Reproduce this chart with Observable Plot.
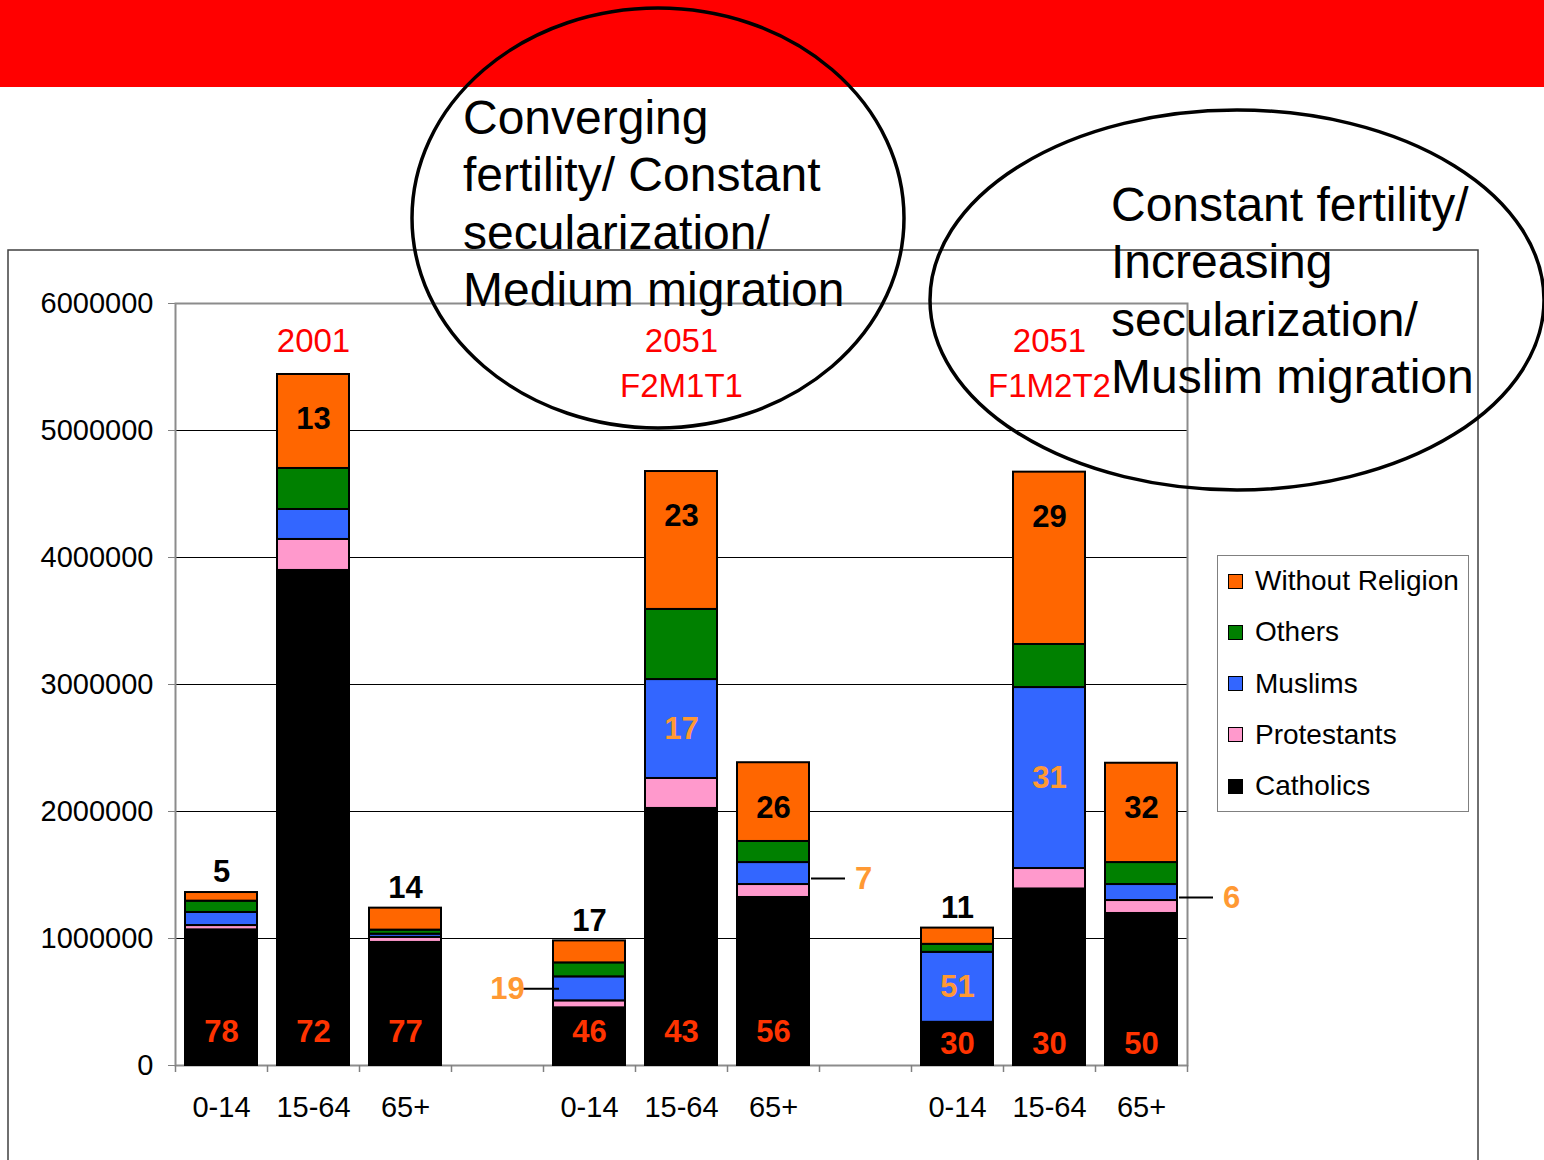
<!DOCTYPE html>
<html><head><meta charset="utf-8">
<script src="https://cdn.jsdelivr.net/npm/d3@7"></script>
<script src="https://cdn.jsdelivr.net/npm/@observablehq/plot@0.6"></script>
<style>
html,body{margin:0;padding:0;background:#fff;}
body{width:1544px;height:1160px;position:relative;overflow:hidden;font-family:"Liberation Sans",Arial,sans-serif;}
#chart{position:absolute;left:0;top:0;width:1544px;height:1160px;}
#banner{position:absolute;left:0;top:0;width:1544px;height:87px;background:#ff0000;}
#overlay{position:absolute;left:0;top:0;}
#legend{position:absolute;left:1217px;top:555px;width:250px;height:255px;border:1px solid #808080;background:#fff;}
#legend .item{position:absolute;left:10px;height:32px;display:flex;align-items:center;font-size:28px;color:#000;white-space:nowrap;}
#legend .sw{width:13px;height:13px;border:1.5px solid #000;margin-right:12px;}
</style></head><body>
<div id="chart"></div>
<div id="banner"></div>
<svg id="overlay" width="1544" height="1160"></svg>
<div id="legend"></div>
<script>
// ---- data ----
const groups = ["2001", "2051 F2M1T1", "2051 F1M2T2"];
const groupHeaders = ["2001", "2051\nF2M1T1", "2051\nF1M2T2"];
const ages = ["0-14", "15-64", "65+"];
const religions = ["Catholics", "Protestants", "Muslims", "Others", "Without Religion"];
const religionColors = ["#000000", "#ff99cc", "#3366ff", "#008000", "#ff6600"];
// values per bar, in the order 2001 (0-14, 15-64, 65+), 2051 F2M1T1 (...), 2051 F1M2T2 (...)
const catholics       = [1068000, 3898000,  969000,  454000, 2024000, 1323000,  335000, 1390000, 1197000];
const protestants     = [  34000,  244000,   40000,   55000,  236000,  102000,    5000,  161000,  102000];
const muslims         = [ 103000,  236000,   25000,  189000,  779000,  173000,  551000, 1425000,  126000];
const others          = [  89000,  323000,   32000,  110000,  552000,  166000,   63000,  339000,  173000];
const withoutReligion = [  68000,  740000,  173000,  173000, 1086000,  620000,  128000, 1357000,  782000];
const catholicPct     = [78, 72, 77, 46, 43, 56, 30, 30, 50];
const withoutPct      = [5, 13, 14, 17, 23, 26, 11, 29, 32];
const muslimPct       = [null, null, null, 19, 17, 7, 51, 31, 6];
const yTicks = [0, 1000000, 2000000, 3000000, 4000000, 5000000, 6000000];

// ---- build tables ----
const series = [catholics, protestants, muslims, others, withoutReligion];
const xDomain = [];
const bars = [];
groups.forEach((g, gi) => {
  if (gi > 0) xDomain.push("gap" + gi);
  ages.forEach((a, ai) => {
    const i = gi * 3 + ai;
    const key = g + "|" + a;
    xDomain.push(key);
    const vals = series.map(s => s[i]);
    const total = d3.sum(vals);
    bars.push({
      key, gi, age: a, total,
      cat: catholics[i],
      mid: catholics[i] + protestants[i] + muslims[i] / 2,
      mus: muslims[i],
      wr: withoutReligion[i],
      catPct: catholicPct[i], wrPct: withoutPct[i], musPct: muslimPct[i]
    });
  });
});
const long = [];
bars.forEach((b, i) => religions.forEach((r, ri) => long.push({key: b.key, religion: r, value: series[ri][i]})));
const headers = groups.map((g, gi) => ({key: g + "|" + ages[1], text: groupHeaders[gi]}));

const musLabels = bars.filter(b => b.musPct != null);
const musInside = musLabels.filter(b => b.mus >= 500000);
const musLeft = musLabels.filter(b => b.mus < 500000 && b.age === "0-14");
const musRight = musLabels.filter(b => b.mus < 500000 && b.age !== "0-14");
const boundaries = xDomain.map(k => ({k}));
const LABEL = {fontWeight: "bold", fontSize: 31};

const plot = Plot.plot({
  width: 1544, height: 1160,
  marginLeft: 175, marginRight: 357, marginTop: 303, marginBottom: 95,
  style: {fontFamily: '"Liberation Sans", Arial, sans-serif', fontSize: "29px", background: "transparent", color: "#000", overflow: "visible"},
  x: {type: "band", domain: xDomain, paddingInner: 0.217, paddingOuter: 0.1085, axis: null},
  y: {domain: [0, 6000000], ticks: yTicks, tickFormat: "d", tickSize: 7, tickPadding: 15, label: null},
  color: {domain: religions, range: religionColors},
  marks: [
    Plot.ruleY(yTicks.filter(t => t > 0 && t < 6000000), {stroke: "#000", strokeWidth: 1}),
    Plot.frame({stroke: "#8c8c8c", strokeWidth: 2}),
    Plot.ruleX(boundaries, {x: "k", y1: 0, y2: 0, insetTop: 7, dx: -46, stroke: "#808080", strokeWidth: 1.5}),
    Plot.ruleX(boundaries.slice(-1), {x: "k", y1: 0, y2: 0, insetTop: 7, dx: 46, stroke: "#808080", strokeWidth: 1.5}),
    Plot.barY(long, {x: "key", y: "value", fill: "religion", stroke: "#000", strokeWidth: 2}),
    Plot.text(bars, {x: "key", text: "age", frameAnchor: "bottom", lineAnchor: "middle", dy: 42, fontSize: 29, fill: "#000"}),
    Plot.text(headers, {x: "key", text: "text", frameAnchor: "top", lineAnchor: "top", dy: 17, fontSize: 33, lineHeight: 1.36, fill: "#ff0000"}),
    Plot.text(bars, {x: "key", y: d => d.gi < 2 ? 260000 : 165000, text: "catPct", fill: "#ff3300", ...LABEL}),
    Plot.text(bars.filter(b => b.wr < 400000), {x: "key", y: "total", text: "wrPct", dy: -20, fill: "#000", ...LABEL}),
    Plot.text(bars.filter(b => b.wr >= 400000), {x: "key", y: "total", text: "wrPct", dy: 45, fill: "#000", ...LABEL}),
    Plot.text(musInside, {x: "key", y: "mid", text: "musPct", fill: "#ff9933", ...LABEL}),
    Plot.tickY(musLeft, {x: "key", y: "mid", dx: -30, insetRight: 36, stroke: "#000", strokeWidth: 2}),
    Plot.text(musLeft, {x: "key", y: "mid", text: "musPct", dx: -82, fill: "#ff9933", ...LABEL}),
    Plot.tickY(musRight, {x: "key", y: "mid", dx: 74, dy: 5, insetRight: 38, stroke: "#000", strokeWidth: 2}),
    Plot.text(musRight, {x: "key", y: "mid", text: "musPct", dx: 90, dy: 6, fill: "#ff9933", ...LABEL})
  ]
});
document.getElementById("chart").appendChild(plot);
d3.select(plot).selectAll('g[aria-label="y-axis tick"] path, g[aria-label="y-axis tick"] line').attr("stroke", "#808080");

// ---- annotations (ellipses, chart box) ----
const ov = d3.select("#overlay");
ov.append("rect").attr("x", 8).attr("y", 250).attr("width", 1470).attr("height", 940)
  .attr("fill", "none").attr("stroke", "#404040").attr("stroke-width", 1.5);
const notes = [
  {cx: 658, cy: 218, rx: 246, ry: 210, x: 463, y0: 134, lines: ["Converging", "fertility/ Constant", "secularization/", "Medium migration"]},
  {cx: 1237, cy: 300, rx: 307, ry: 190, x: 1111, y0: 221, lines: ["Constant fertility/", "Increasing", "secularization/", "Muslim migration"]}
];
notes.forEach(n => {
  ov.append("ellipse").attr("cx", n.cx).attr("cy", n.cy).attr("rx", n.rx).attr("ry", n.ry)
    .attr("fill", "none").attr("stroke", "#000").attr("stroke-width", 3.5);
  n.lines.forEach((t, i) => ov.append("text").attr("x", n.x).attr("y", n.y0 + i * 57.4)
    .attr("font-family", '"Liberation Sans", Arial, sans-serif').attr("font-size", 48).attr("fill", "#000").text(t));
});

// ---- legend ----
const lg = d3.select("#legend");
religions.slice().reverse().forEach((r, i) => {
  const it = lg.append("div").attr("class", "item").style("top", (25 + i * 51.3 - 16) + "px");
  it.append("div").attr("class", "sw").style("background", religionColors[religions.indexOf(r)]);
  it.append("span").text(r);
});
</script></body></html>
